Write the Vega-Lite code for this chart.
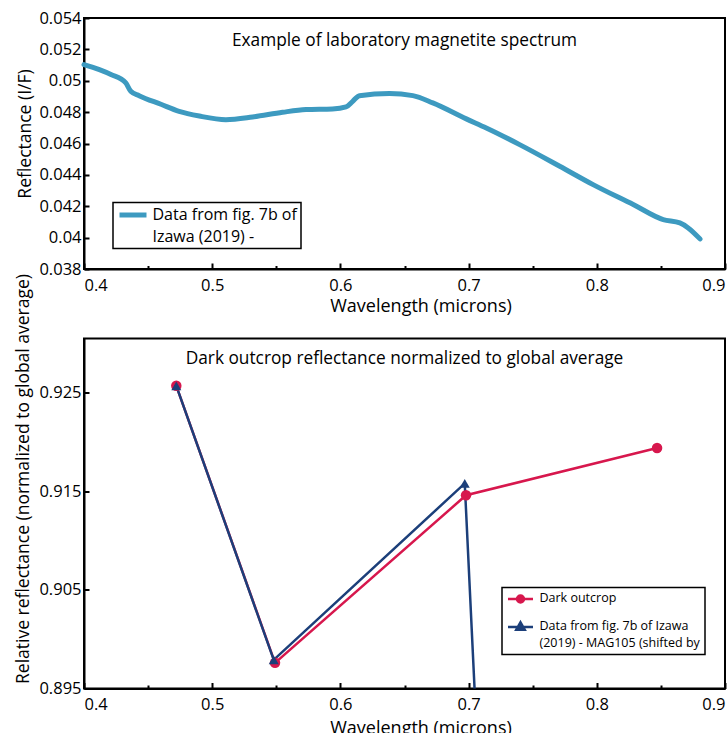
{
  "$schema": "https://vega.github.io/schema/vega-lite/v6.json",
  "background": "white",
  "autosize": {"type": "pad"},
  "padding": {"left": 13, "top": 9, "right": 0, "bottom": 0},
  "bounds": "flush",
  "spacing": 69.5,
  "config": {
    "font": "Open Sans",
    "view": {"stroke": "black", "strokeWidth": 2},
    "axis": {
      "domainColor": "black", "domainWidth": 2, "tickColor": "black", "tickWidth": 2,
      "labelColor": "black", "labelFontSize": 16.5, "titleColor": "black", "titleFontSize": 17.5,
      "titleFontWeight": "normal", "grid": false
    },
    "title": {"fontSize": 17.3, "fontWeight": "normal", "color": "black"},
    "legend": {"labelColor": "black", "labelFont": "Open Sans"}
  },
  "resolve": {"scale": {"color": "independent"}, "legend": {"color": "independent"}},
  "vconcat": [
    {
      "width": 641,
      "height": 251,
      "title": {"text": "Example of laboratory magnetite spectrum", "offset": -48, "baseline": "middle", "frame": "group"},
      "data": {"values": [
        {"w": 0.400, "r": 0.05103, "series": "Data from fig. 7b of Izawa (2019) -"},
        {"w": 0.412, "r": 0.05071, "series": "Data from fig. 7b of Izawa (2019) -"},
        {"w": 0.421, "r": 0.05040, "series": "Data from fig. 7b of Izawa (2019) -"},
        {"w": 0.4326, "r": 0.04986, "series": "Data from fig. 7b of Izawa (2019) -"},
        {"w": 0.4365, "r": 0.04933, "series": "Data from fig. 7b of Izawa (2019) -"},
        {"w": 0.443, "r": 0.04905, "series": "Data from fig. 7b of Izawa (2019) -"},
        {"w": 0.460, "r": 0.04850, "series": "Data from fig. 7b of Izawa (2019) -"},
        {"w": 0.4742, "r": 0.04805, "series": "Data from fig. 7b of Izawa (2019) -"},
        {"w": 0.490, "r": 0.04775, "series": "Data from fig. 7b of Izawa (2019) -"},
        {"w": 0.5107, "r": 0.04752, "series": "Data from fig. 7b of Izawa (2019) -"},
        {"w": 0.5315, "r": 0.04769, "series": "Data from fig. 7b of Izawa (2019) -"},
        {"w": 0.5549, "r": 0.04799, "series": "Data from fig. 7b of Izawa (2019) -"},
        {"w": 0.5732, "r": 0.04816, "series": "Data from fig. 7b of Izawa (2019) -"},
        {"w": 0.5938, "r": 0.04820, "series": "Data from fig. 7b of Izawa (2019) -"},
        {"w": 0.6044, "r": 0.04833, "series": "Data from fig. 7b of Izawa (2019) -"},
        {"w": 0.6096, "r": 0.04869, "series": "Data from fig. 7b of Izawa (2019) -"},
        {"w": 0.6148, "r": 0.04905, "series": "Data from fig. 7b of Izawa (2019) -"},
        {"w": 0.6383, "r": 0.04918, "series": "Data from fig. 7b of Izawa (2019) -"},
        {"w": 0.6565, "r": 0.04905, "series": "Data from fig. 7b of Izawa (2019) -"},
        {"w": 0.6721, "r": 0.04859, "series": "Data from fig. 7b of Izawa (2019) -"},
        {"w": 0.6982, "r": 0.04757, "series": "Data from fig. 7b of Izawa (2019) -"},
        {"w": 0.7138, "r": 0.04699, "series": "Data from fig. 7b of Izawa (2019) -"},
        {"w": 0.7398, "r": 0.04593, "series": "Data from fig. 7b of Izawa (2019) -"},
        {"w": 0.7711, "r": 0.04455, "series": "Data from fig. 7b of Izawa (2019) -"},
        {"w": 0.7971, "r": 0.04338, "series": "Data from fig. 7b of Izawa (2019) -"},
        {"w": 0.8284, "r": 0.04211, "series": "Data from fig. 7b of Izawa (2019) -"},
        {"w": 0.8518, "r": 0.04115, "series": "Data from fig. 7b of Izawa (2019) -"},
        {"w": 0.8648, "r": 0.04094, "series": "Data from fig. 7b of Izawa (2019) -"},
        {"w": 0.8713, "r": 0.04062, "series": "Data from fig. 7b of Izawa (2019) -"},
        {"w": 0.8805, "r": 0.03992, "series": "Data from fig. 7b of Izawa (2019) -"}
      ]},
      "resolve": {"axis": {"x": "independent"}},
      "layer": [
        {
          "mark": {"type": "line", "strokeWidth": 5, "interpolate": "monotone", "strokeCap": "round"},
          "encoding": {
            "x": {"field": "w", "type": "quantitative",
              "scale": {"domain": [0.4, 0.9], "nice": false, "zero": false},
              "axis": {"orient": "bottom", "values": [0.4, 0.5, 0.6, 0.7, 0.8, 0.9], "format": ".1~f", "labelFlush": true,
                "tickSize": -6, "labelPadding": 14, "title": "Wavelength (microns)", "titleFontSize": 18, "titleX": 336.5, "titlePadding": 4}},
            "y": {"field": "r", "type": "quantitative",
              "scale": {"domain": [0.038, 0.054], "nice": false, "zero": false},
              "axis": {"values": [0.038, 0.04, 0.042, 0.044, 0.046, 0.048, 0.05, 0.052, 0.054], "format": ".3~f",
                "tickSize": -5, "labelPadding": 8, "title": "Reflectance (I/F)", "titleY": 115.5, "titlePadding": 4}},
            "color": {"field": "series", "type": "nominal",
              "scale": {"range": ["#3d9ac0"]},
              "legend": {"title": null, "orient": "none", "legendX": 29, "legendY": 184.5,
                "strokeColor": "black", "padding": 4,
                "symbolType": "stroke", "symbolSize": 729, "symbolStrokeWidth": 5,
                "labelFontSize": 16, "labelOffset": 3.5, "labelLimit": 400, "labelBaseline": "top",
                "labelExpr": "['Data from fig. 7b of', 'Izawa (2019) -']",
                "encode": {"legend": {"update": {"strokeWidth": {"value": 1.5}}},
                  "symbols": {"update": {"y": {"value": 8.5}}},
                  "labels": {"update": {"y": {"value": 0}, "lineHeight": {"value": 22}}}}}}
          }
        },
        {
          "mark": {"type": "point", "opacity": 0},
          "encoding": {
            "x": {"field": "w", "type": "quantitative",
              "axis": {"orient": "bottom", "values": [0.45, 0.55, 0.65, 0.75, 0.85], "labels": false, "domain": false,
                "tickSize": -3.5, "title": null}}
          }
        }
      ]
    },
    {
      "width": 641,
      "height": 350,
      "title": {"text": "Dark outcrop reflectance normalized to global average", "offset": -103, "baseline": "middle", "frame": "group"},
      "data": {"values": [
        {"w": 0.472, "v": 0.9257, "series": "Dark outcrop"},
        {"w": 0.549, "v": 0.8976, "series": "Dark outcrop"},
        {"w": 0.698, "v": 0.9146, "series": "Dark outcrop"},
        {"w": 0.847, "v": 0.9194, "series": "Dark outcrop"},
        {"w": 0.472, "v": 0.9257, "series": "Data from fig. 7b of Izawa (2019) - MAG105 (shifted by"},
        {"w": 0.548, "v": 0.8979, "series": "Data from fig. 7b of Izawa (2019) - MAG105 (shifted by"},
        {"w": 0.697, "v": 0.9158, "series": "Data from fig. 7b of Izawa (2019) - MAG105 (shifted by"},
        {"w": 0.710, "v": 0.8804, "series": "Data from fig. 7b of Izawa (2019) - MAG105 (shifted by"}
      ]},
      "resolve": {"axis": {"x": "independent"}},
      "layer": [
        {
          "mark": {"type": "line", "strokeWidth": 2.5, "clip": true},
          "encoding": {
            "x": {"field": "w", "type": "quantitative",
              "scale": {"domain": [0.4, 0.9], "nice": false, "zero": false},
              "axis": {"orient": "bottom", "values": [0.4, 0.5, 0.6, 0.7, 0.8, 0.9], "format": ".1~f", "labelFlush": true,
                "tickSize": -6, "labelPadding": 14, "title": "Wavelength (microns)", "titleFontSize": 18, "titleX": 336.5, "titlePadding": 6}},
            "y": {"field": "v", "type": "quantitative",
              "scale": {"domain": [0.895, 0.9305], "nice": false, "zero": false},
              "axis": {"values": [0.895, 0.905, 0.915, 0.925], "format": ".3f",
                "tickSize": -5, "labelPadding": 8, "title": "Relative reflectance (normalized to global average)", "titleY": 140, "titlePadding": 6}},
            "color": {"field": "series", "type": "nominal",
              "scale": {"domain": ["Dark outcrop", "Data from fig. 7b of Izawa (2019) - MAG105 (shifted by"], "range": ["#d7174d", "#1c3f7a"]},
              "legend": {"title": null, "orient": "none", "legendX": 418, "legendY": 249,
                "strokeColor": "black", "padding": 4.5, "rowPadding": 9,
                "symbolSize": 625, "labelFontSize": 12.5, "labelOffset": 5, "labelLimit": 400, "labelBaseline": "top",
                "labelExpr": "datum.label == 'Dark outcrop' ? datum.label : ['Data from fig. 7b of Izawa', '(2019) - MAG105 (shifted by']",
                "encode": {
                  "legend": {"update": {"strokeWidth": {"value": 1.5}}},
                  "symbols": {"update": {
                    "shape": {"signal": "datum.value == 'Dark outcrop' ? 'M-1,0H1M0.28,0A0.28,0.28,0,1,1,-0.28,0A0.28,0.28,0,1,1,0.28,0Z' : 'M-1,0H1M0,-0.38L0.34,0.22L-0.34,0.22Z'"},
                    "stroke": {"signal": "datum.value == 'Dark outcrop' ? '#d7174d' : '#1c3f7a'"},
                    "fill": {"signal": "datum.value == 'Dark outcrop' ? '#d7174d' : '#1c3f7a'"},
                    "strokeWidth": {"value": 2.5},
                    "opacity": {"value": 1},
                    "y": {"value": 7}
                  }},
                  "labels": {"update": {"y": {"value": 0}, "lineHeight": {"value": 17}}}
                }}}
          }
        },
        {
          "transform": [{"filter": "datum.series == 'Dark outcrop'"}],
          "mark": {"type": "point", "shape": "circle", "filled": true, "opacity": 1, "size": 110, "clip": true},
          "encoding": {
            "x": {"field": "w", "type": "quantitative", "axis": null},
            "y": {"field": "v", "type": "quantitative"},
            "color": {"field": "series", "type": "nominal"}
          }
        },
        {
          "transform": [{"filter": "datum.series != 'Dark outcrop'"}],
          "mark": {"type": "point", "shape": "triangle-up", "filled": true, "opacity": 1, "size": 100, "clip": true},
          "encoding": {
            "x": {"field": "w", "type": "quantitative", "axis": null},
            "y": {"field": "v", "type": "quantitative"},
            "color": {"field": "series", "type": "nominal"}
          }
        },
        {
          "mark": {"type": "point", "opacity": 0},
          "encoding": {
            "x": {"field": "w", "type": "quantitative",
              "axis": {"orient": "bottom", "values": [0.45, 0.55, 0.65, 0.75, 0.85], "labels": false, "domain": false,
                "tickSize": -3.5, "title": null}}
          }
        }
      ]
    }
  ]
}
